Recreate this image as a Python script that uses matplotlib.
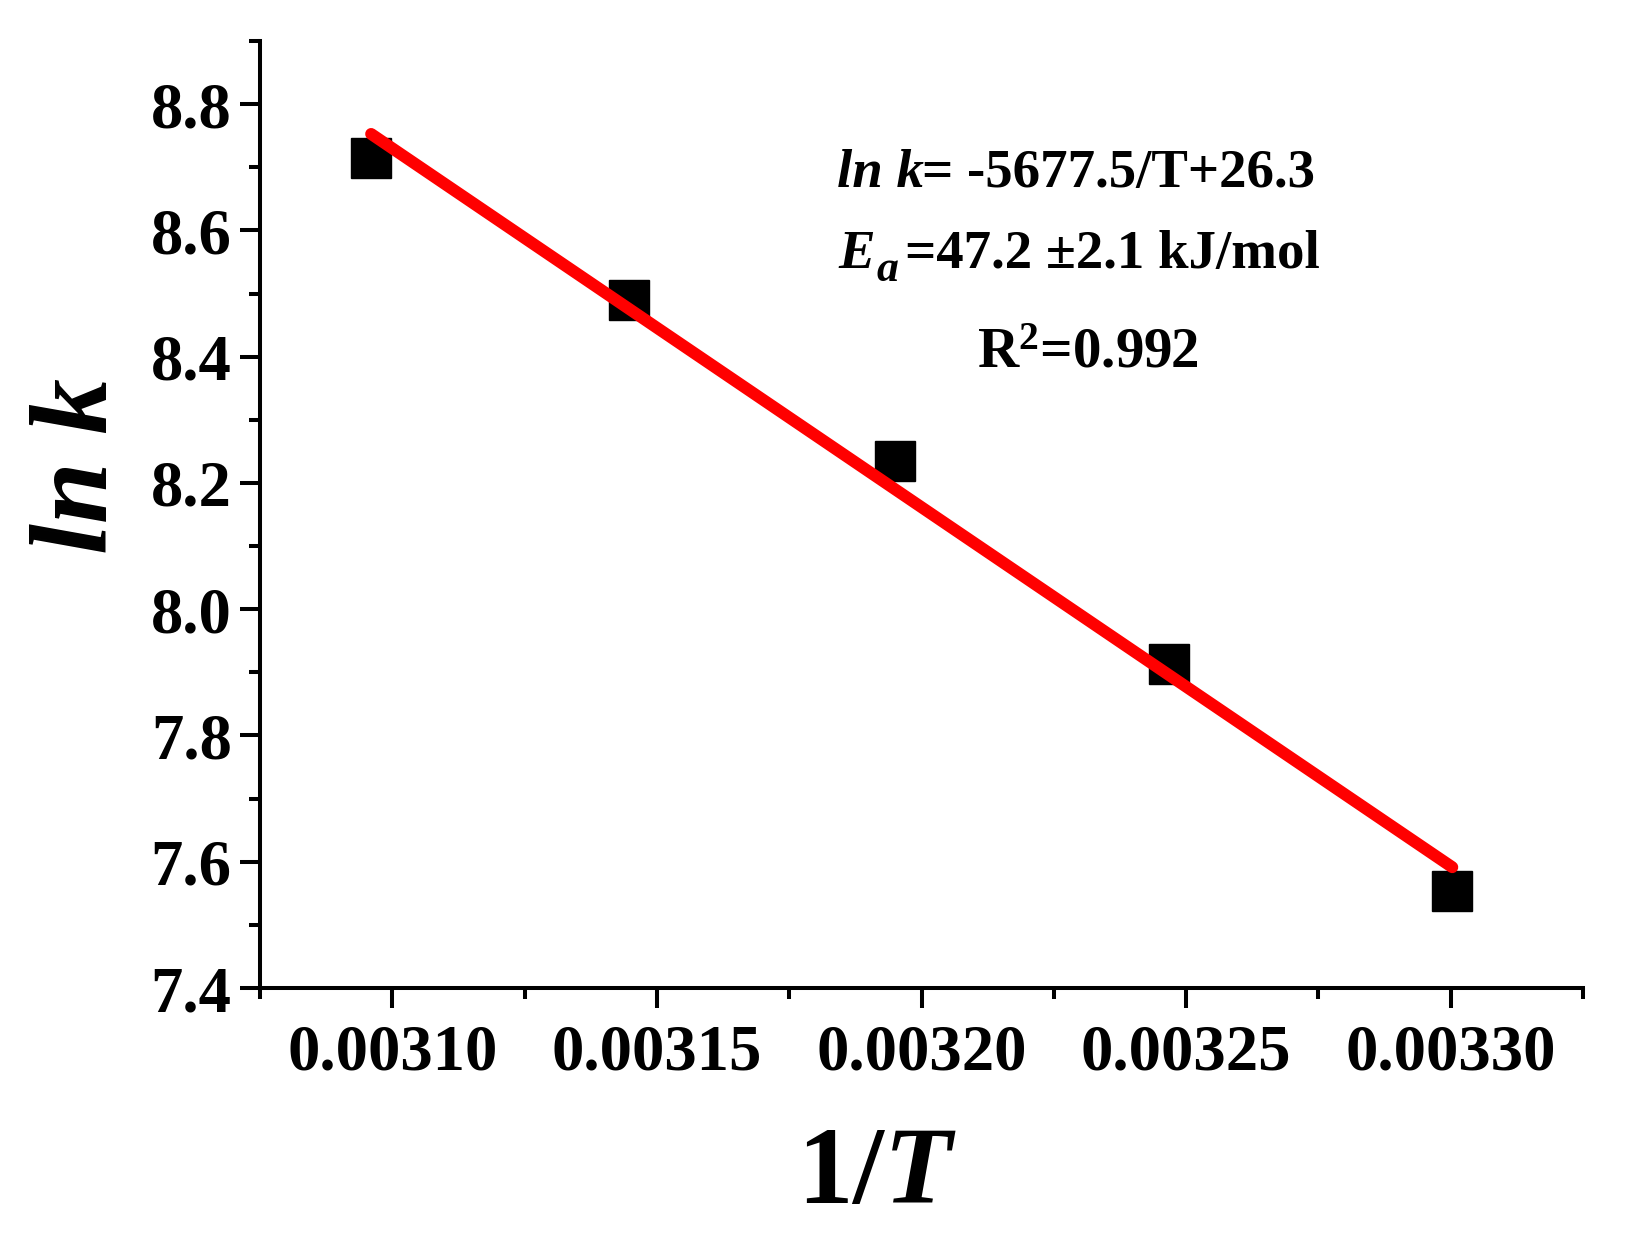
import numpy as np
import matplotlib
matplotlib.use('Agg')
import matplotlib.pyplot as plt
from matplotlib.ticker import MultipleLocator, FormatStrFormatter

plt.rcParams['font.family'] = ['Liberation Serif', 'DejaVu Serif']
plt.rcParams['font.weight'] = 'bold'
plt.rcParams['mathtext.fontset'] = 'custom'
plt.rcParams['mathtext.rm'] = 'Liberation Serif:bold'
plt.rcParams['mathtext.bf'] = 'Liberation Serif:bold'
plt.rcParams['mathtext.it'] = 'Liberation Serif:italic:bold'

# data: 1/T and ln k
inv_T = [0.0030960, 0.0031447, 0.0031949, 0.0032468, 0.0033003]
ln_k = [8.715, 8.490, 8.234, 7.913, 7.554]

x = np.array(inv_T)
y = np.array(ln_k)
slope, icpt = np.polyfit(x, y, 1)
xf = np.array([x.min(), x.max()])
yf = slope * xf + icpt

W, H = 1626, 1244
fig = plt.figure(figsize=(W / 100, H / 100), dpi=100)
ax = fig.add_axes([260 / W, 1 - 988 / H, 1323 / W, 947 / H])

ax.plot(xf, yf, color='#ff0000', lw=8.6, solid_capstyle='round', zorder=3)
ax.plot(x, y, 's', color='black', ms=29.5, zorder=2)

ax.set_xlim(0.003075, 0.003325)
ax.set_ylim(7.4, 8.9)
ax.xaxis.set_major_locator(MultipleLocator(0.00005))
ax.xaxis.set_minor_locator(MultipleLocator(0.000025))
ax.yaxis.set_major_locator(MultipleLocator(0.2))
ax.yaxis.set_minor_locator(MultipleLocator(0.1))
ax.xaxis.set_major_formatter(FormatStrFormatter('%.5f'))
ax.yaxis.set_major_formatter(FormatStrFormatter('%.1f'))

for s in ['top', 'right']:
    ax.spines[s].set_visible(False)
for s in ['left', 'bottom']:
    ax.spines[s].set_linewidth(2.9)

ax.tick_params(which='major', direction='out', length=14.4, width=2.9,
               labelsize=46.5)
ax.tick_params(axis='x', which='major', pad=11)
ax.tick_params(axis='y', which='major', pad=6)
ax.tick_params(which='minor', direction='out', length=8, width=2.9)

ax.set_xlabel(r'1/$\mathit{T}$', fontsize=80, fontweight='bold')
ax.xaxis.label.set_verticalalignment('baseline')
ax.xaxis.set_label_coords(0.466, -0.227)
ax.set_ylabel('ln k', fontsize=80, fontweight='bold', fontstyle='italic')
ax.yaxis.label.set_verticalalignment('baseline')
ax.yaxis.set_label_coords(-0.1157, 0.551)


def ftext(px, py, s, **kw):
    fig.text(px / W, 1 - py / H, s, va='baseline', ha='left', **kw)


fs = 39.5
ftext(837, 187, 'ln k', fontsize=fs, fontstyle='italic')
ftext(922, 187, '= -5677.5/T+26.3', fontsize=fs)
ftext(838, 268, 'E', fontsize=fs, fontstyle='italic')
ftext(876, 281, 'a', fontsize=fs * 0.8, fontstyle='italic')
ftext(905, 268, '=47.2 \u00b12.1 kJ/mol', fontsize=fs)
ftext(977, 368, r'R$^{\mathbf{2}}$=0.992', fontsize=fs * 1.04)

fig.savefig('out.png', dpi=100)
